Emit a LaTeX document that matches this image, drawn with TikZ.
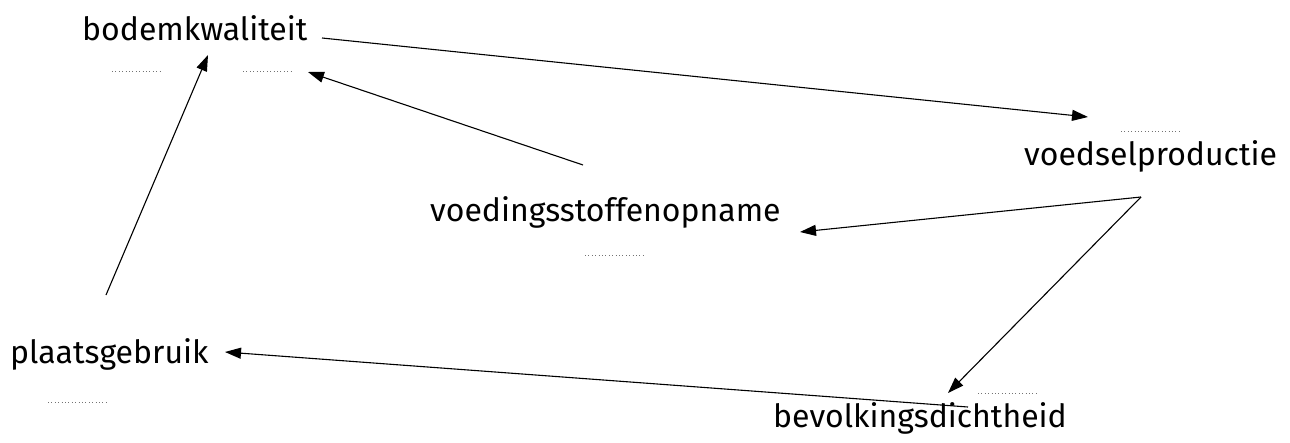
\documentclass[tikz,border=0pt]{standalone}
\usepackage{fontspec}
\setmainfont{Fira Sans}
\usetikzlibrary{arrows.meta}
\begin{document}
\begin{tikzpicture}[x=1pt,y=-1pt,
  lbl/.style={inner sep=0pt, anchor=base west, font=\fontsize{32}{38}\selectfont},
  conn/.style={line width=1.1pt, -{Triangle[length=16pt,width=11pt]}},
  blank/.style={black!55, line width=0.9pt, dash pattern=on 1pt off 2.4pt}]
\useasboundingbox (0,0) rectangle (1290,442);
\node[lbl] (bod) at (82,40) {bodemkwaliteit};
\node[lbl] (voe) at (1024,165) {voedselproductie};
\node[lbl] (vst) at (430,221) {voedingsstoffenopname};
\node[lbl] (pla) at (10,363) {plaatsgebruik};
\node[lbl] (bev) at (773,427) {bevolkingsdichtheid};
% blanks
\draw[blank] (112,71) -- (162,71);
\draw[blank] (243,71) -- (292,71);
\draw[blank] (1121,131) -- (1181,131);
\draw[blank] (585,255) -- (645,255);
\draw[blank] (48,402) -- (106,402);
\draw[blank] (978,393) -- (1038,393);
% connector endpoints
\coordinate (bodR) at (322,38);
\coordinate (voeIn) at (1088,117);
\coordinate (vstOut) at (583,165);
\coordinate (bodIn2) at (308,72);
\coordinate (plaOut) at (106,295);
\coordinate (bodIn1) at (208,55);
\coordinate (voeOut) at (1141,197);
\coordinate (vstIn) at (800,232);
\coordinate (bevIn) at (948,393);
\coordinate (bevOut) at (968,407);
\coordinate (plaIn) at (225,352);
\draw[conn] (bodR) -- (voeIn);
\draw[conn] (vstOut) -- (bodIn2);
\draw[conn] (plaOut) -- (bodIn1);
\draw[conn] (voeOut) -- (vstIn);
\draw[conn] (voeOut) -- (bevIn);
\draw[conn] (bevOut) -- (plaIn);
\end{tikzpicture}
\end{document}
